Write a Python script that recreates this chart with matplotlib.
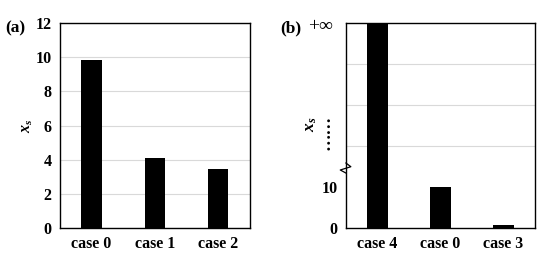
import matplotlib
matplotlib.use("Agg")
import matplotlib.pyplot as plt

plt.rcParams['font.family'] = ['Liberation Serif', 'DejaVu Serif']
plt.rcParams['font.weight'] = 'bold'
plt.rcParams['mathtext.fontset'] = 'custom'
plt.rcParams['mathtext.it'] = 'Liberation Serif:italic:bold'
plt.rcParams['mathtext.rm'] = 'Liberation Serif:bold'

cats_a = ['case 0', 'case 1', 'case 2']
vals_a = [9.85, 4.1, 3.45]
ticks_a = [0, 2, 4, 6, 8, 10, 12]

cats_b = ['case 4', 'case 0', 'case 3']
vals_b = [50, 10, 0.8]          # 50 stands for +infinity (top of axis)
ticks_b = [0, 10]
ticklabels_b = ['0', '10']
grid_b = [10, 20, 30, 40]

fig = plt.figure(figsize=(5.5, 2.75), dpi=100)
axa = fig.add_axes([0.109, 0.171, 0.3455, 0.745])
axb = fig.add_axes([0.629, 0.171, 0.3436, 0.745])

fs = 11.5
for ax in (axa, axb):
    ax.set_xlim(-0.5, 2.5)
    ax.tick_params(length=0, labelsize=fs, pad=6)
    for s in ax.spines.values():
        s.set_linewidth(1.0)
        s.set_color('black')
    ax.set_axisbelow(True)

axa.bar(range(3), vals_a, width=0.32, color='black')
axa.set_ylim(0, 12)
axa.set_yticks(ticks_a)
axa.set_xticks(range(3))
axa.set_xticklabels(cats_a, fontweight='bold')
axa.yaxis.grid(True, color='#d9d9d9', linewidth=0.8)
axa.set_ylabel('$x_s$', fontsize=fs, labelpad=0)
for lab in axa.get_yticklabels():
    lab.set_fontweight('bold')

axb.bar(range(3), vals_b, width=0.32, color='black')
axb.set_ylim(0, 50)
axb.set_yticks(ticks_b)
axb.set_yticklabels(ticklabels_b, fontweight='bold')
axb.set_yticks(grid_b, minor=True)
axb.tick_params(which='minor', length=0)
axb.yaxis.grid(True, which='minor', color='#d9d9d9', linewidth=0.8)
axb.set_xticks(range(3))
axb.set_xticklabels(cats_b, fontweight='bold')

# +infinity label at the top of panel (b)
axb.text(-0.07, 0.985, '+∞', transform=axb.transAxes, ha='right', va='center',
         fontsize=14, fontweight='normal', family=['Liberation Serif', 'DejaVu Serif'])

# y label of panel (b): x_s with a column of dots (one text, two lines)
fig.text(318 / 550, 1 - 133 / 275, '\u2003$x_s$\n……', rotation=90, ha='center', va='center',
         multialignment='center', fontsize=12.5, linespacing=0.85)

# break mark on left spine
axb.plot([0.0, 0.0], [0.268, 0.317], transform=axb.transAxes, color='white', linewidth=1.6,
         clip_on=False, zorder=2)
axb.plot([0.0, 0.026, -0.030, 0.0], [0.317, 0.299, 0.283, 0.268], transform=axb.transAxes,
         color='black', linewidth=0.9, clip_on=False, zorder=3)

fig.text(0.010, 0.898, '(a)', fontsize=fs + 1, fontweight='bold', va='center')
fig.text(0.509, 0.898, '(b)', fontsize=fs + 1, fontweight='bold', va='center')

fig.savefig('out.png', dpi=100)
